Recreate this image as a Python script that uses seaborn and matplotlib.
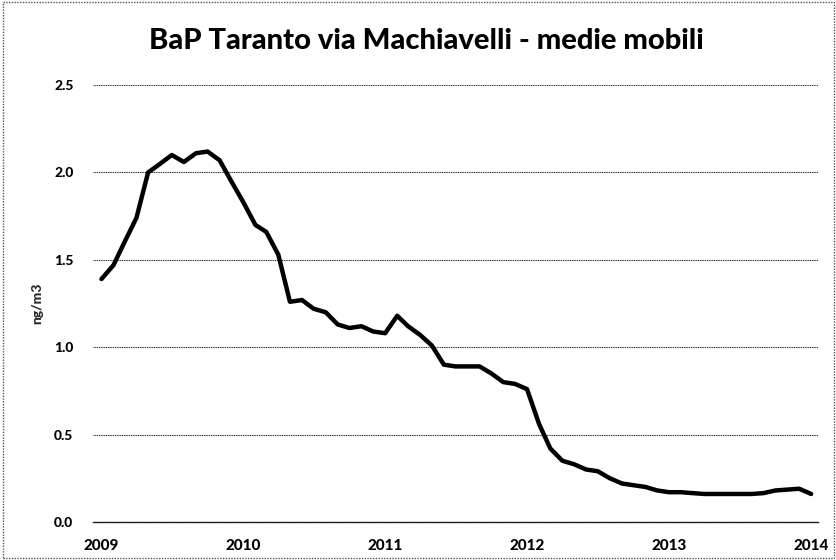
import matplotlib
matplotlib.use("Agg")
import matplotlib.pyplot as plt
import matplotlib.patches as mpatches
import seaborn as sns
import pandas as pd

# --- data -----------------------------------------------------------------
start_month = "2009-01-01"
values = [1.39, 1.47, 1.60, 1.74, 2.00, 2.05, 2.10, 2.06, 2.11, 2.12,
          2.07, 1.95, 1.83, 1.70, 1.66, 1.53, 1.26, 1.27, 1.22, 1.20,
          1.13, 1.11, 1.12, 1.09, 1.08, 1.18, 1.12, 1.07, 1.01, 0.90,
          0.89, 0.89, 0.89, 0.85, 0.80, 0.79, 0.76, 0.56, 0.42, 0.35,
          0.33, 0.30, 0.29, 0.25, 0.22, 0.21, 0.20, 0.18, 0.17, 0.17,
          0.165, 0.16, 0.16, 0.16, 0.16, 0.16, 0.165, 0.18, 0.185, 0.19,
          0.16]
year_ticks = ["2009", "2010", "2011", "2012", "2013", "2014"]
y_ticks = [0.0, 0.5, 1.0, 1.5, 2.0, 2.5]
title = "BaP Taranto via Machiavelli - medie mobili"
ylabel = "ng/m3"

dates = pd.date_range(start_month, periods=len(values), freq="MS")
df = pd.DataFrame({"data": dates, "valore": values})

# --- style ----------------------------------------------------------------
sns.set_theme(style="white")
plt.rcParams["font.family"] = ["Lato", "DejaVu Sans"]

fig = plt.figure(figsize=(8.37, 5.60), dpi=100)
ax = fig.add_axes([0.111, 0.068, 0.866, 0.780])

sns.lineplot(data=df, x="data", y="valore", ax=ax, color="black",
             linewidth=3.2, zorder=3)

tick_dates = pd.to_datetime([f"{y}-01-01" for y in year_ticks])
ax.set_xticks(tick_dates)
ax.set_xticklabels(year_ticks, fontsize=11, fontweight="black")
ax.set_xlim(pd.Timestamp("2008-12-10"), pd.Timestamp("2014-01-18"))

ax.set_ylim(0, 2.5)
ax.set_yticks(y_ticks)
ax.set_yticklabels([f"{v:.1f}" for v in y_ticks], fontsize=10, fontweight="black")
ax.yaxis.grid(True, color="#333333", linewidth=0.8, linestyle=(0, (1, 0.6)))
ax.xaxis.grid(False)
ax.tick_params(axis="y", length=0, pad=14, colors="black")
ax.tick_params(axis="x", length=0, pad=12, colors="black")

for s in ["top", "right", "left"]:
    ax.spines[s].set_visible(False)
ax.spines["bottom"].set_color("#222222")
ax.spines["bottom"].set_linewidth(1.0)

ax.set_xlabel("")
ax.set_ylabel(ylabel, fontsize=10, fontweight="black", labelpad=8)

fig.text(0.51, 0.927, title, ha="center", va="center", fontsize=21,
         fontweight="black", color="black")

# dotted figure border
fig.patches.append(mpatches.Rectangle((0.003, 0.003), 0.994, 0.994,
                                      transform=fig.transFigure, fill=False,
                                      edgecolor="#555555", linewidth=1.0,
                                      linestyle=(0, (1, 1))))

fig.savefig("out.png", dpi=100)
